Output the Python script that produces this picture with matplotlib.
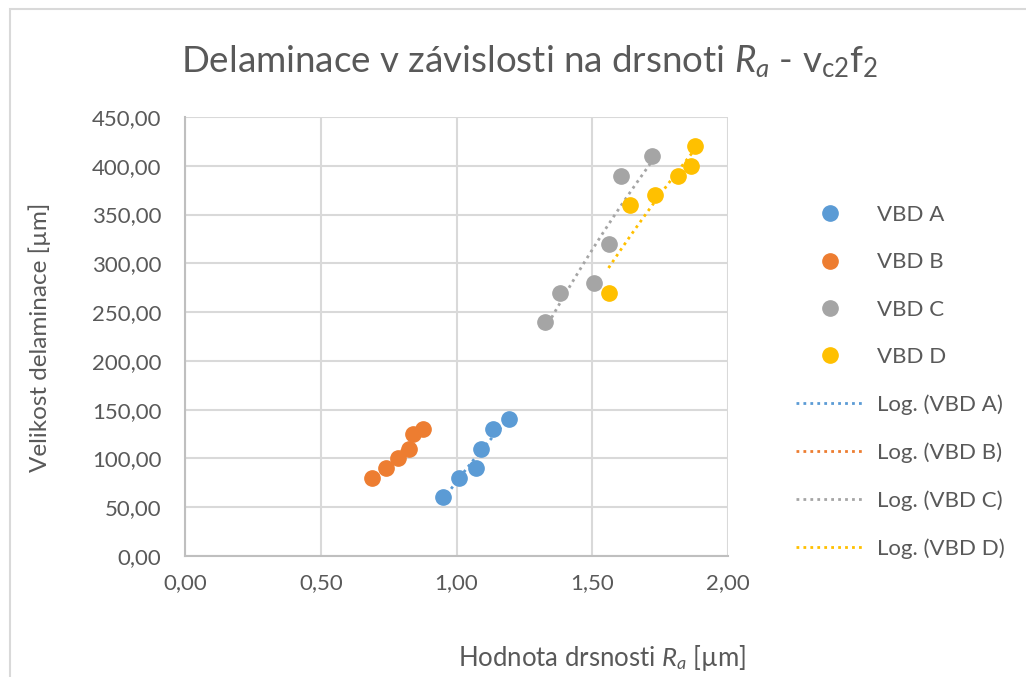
import numpy as np
import matplotlib
matplotlib.use("Agg")
import matplotlib.pyplot as plt
from matplotlib.patches import Rectangle
from matplotlib.ticker import FuncFormatter

plt.rcParams['font.family'] = ['Lato', 'DejaVu Sans']
plt.rcParams['mathtext.fontset'] = 'custom'
plt.rcParams['mathtext.rm'] = 'Lato'
plt.rcParams['mathtext.it'] = 'Lato:italic'

# naměřené hodnoty: drsnost Ra [µm] a velikost delaminace [µm]
ra_a = [0.95, 1.01, 1.07, 1.09, 1.135, 1.195]
del_a = [60, 80, 90, 110, 130, 140]
ra_b = [0.69, 0.74, 0.785, 0.825, 0.84, 0.875]
del_b = [80, 90, 100, 110, 125, 130]
ra_c = [1.325, 1.38, 1.505, 1.56, 1.605, 1.72]
del_c = [240, 270, 280, 320, 390, 410]
ra_d = [1.56, 1.64, 1.73, 1.815, 1.865, 1.88]
del_d = [270, 360, 370, 390, 400, 420]

nazvy = ['VBD A', 'VBD B', 'VBD C', 'VBD D']
barvy = ['#5B9BD5', '#ED7D31', '#A5A5A5', '#FFC000']
serie = [(ra_a, del_a), (ra_b, del_b), (ra_c, del_c), (ra_d, del_d)]

text_col = '#595959'
grid_col = '#D9D9D9'

fig = plt.figure(figsize=(10.26, 6.77), dpi=100)
ax = fig.add_axes([185 / 1026, 1 - 556 / 677, 543 / 1026, 439 / 677])

# ramecek grafu
fig.patches.append(Rectangle((10 / 1026, -0.1), 1.2, 1 - 9 / 677 + 0.1,
                             transform=fig.transFigure, fill=False,
                             edgecolor=grid_col, lw=1.5, zorder=0))

body = []
for (x, y), nazev, c in zip(serie, nazvy, barvy):
    h, = ax.plot(x, y, 'o', color=c, markersize=11, label=nazev, zorder=3)
    body.append(h)

# logaritmické trendy y = a*ln(x) + b
trendy = []
for (x, y), nazev, c in zip(serie, nazvy, barvy):
    x = np.asarray(x)
    a, b = np.polyfit(np.log(x), y, 1)
    xs = np.linspace(x.min(), x.max(), 100)
    h, = ax.plot(xs, a * np.log(xs) + b, color=c, lw=2,
                 linestyle=(0, (1, 1.5)), label=f'Log. ({nazev})', zorder=2)
    trendy.append(h)

ax.set_xlim(0, 2)
ax.set_ylim(0, 450)
ax.set_xticks(np.arange(0, 2.01, 0.5))
ax.set_yticks(np.arange(0, 451, 50))
carka = FuncFormatter(lambda v, p: f'{v:.2f}'.replace('.', ','))
ax.xaxis.set_major_formatter(carka)
ax.yaxis.set_major_formatter(carka)
ax.grid(True, color=grid_col, lw=1.5)
ax.set_axisbelow(True)
for s in ['top', 'right']:
    ax.spines[s].set_visible(False)
for s in ['left', 'bottom']:
    ax.spines[s].set_color('#BFBFBF')
    ax.spines[s].set_linewidth(1.5)
ax.tick_params(length=0, labelsize=16, colors=text_col)
ax.tick_params(axis='y', pad=17)
ax.tick_params(axis='x', pad=12)

fig.text(530 / 1026, 1 - 62 / 677,
         r'Delaminace v závislosti na drsnoti $R_a$ - v$_{\mathrm{c2}}$f$_{\mathrm{2}}$',
         ha='center', va='center', fontsize=26.5, color=text_col)
fig.text(602 / 1026, 1 - 658 / 677, r'Hodnota drsnosti $R_a$ [µm]',
         ha='center', va='center', fontsize=18.5, color=text_col)
fig.text(40 / 1026, 1 - 337 / 677, 'Velikost delaminace [µm]', rotation=90,
         ha='center', va='center', fontsize=17.5, color=text_col)

leg = ax.legend(handles=body + trendy, loc='center left',
                bbox_to_anchor=(796 / 1026, 1 - 382 / 677),
                bbox_transform=fig.transFigure, frameon=False, fontsize=16,
                handlelength=3.1, handletextpad=0.55, labelspacing=1.23,
                borderpad=0, borderaxespad=0)
for t in leg.get_texts():
    t.set_color(text_col)

fig.savefig('out.png', dpi=100)
